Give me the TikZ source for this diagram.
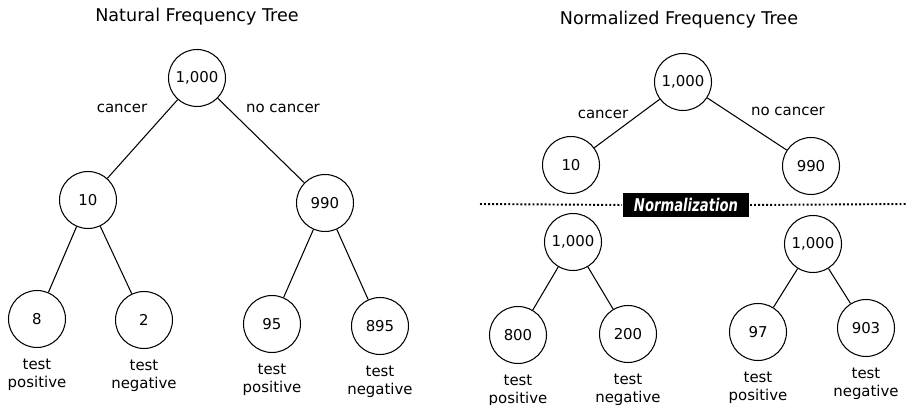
\documentclass[tikz,border=0pt]{standalone}
\usepackage{fontspec}
\usepackage{graphicx}
\setmainfont{DejaVu Sans}
\usetikzlibrary{positioning}
\tikzset{
  freq/.style={circle, draw, line width=0.6pt, minimum size=1.14cm, inner sep=0pt,
               font=\fontsize{8.5}{10}\selectfont},
  outcome/.style={align=center, inner sep=1pt, font=\fontsize{8.5}{10.2}\selectfont},
  branch/.style={font=\fontsize{8.5}{10}\selectfont},
  treetitle/.style={font=\fontsize{10}{12}\selectfont},
}

\begin{document}
\begin{tikzpicture}[x=0.02cm, y=-0.02cm, line width=0.6pt]
  \useasboundingbox (0,0) rectangle (907,405);
  % natural frequency tree
  \node[treetitle] (t1) at (197,17) {Natural Frequency Tree};
  \node[freq] (r1)  at (197,78)  {1,000};
  \node[freq] (c1)  at (88,200)  {10};
  \node[freq] (n1)  at (325,203) {990};
  \node[freq] (cp1) at (37,319)  {8};
  \node[freq] (cn1) at (144,320) {2};
  \node[freq] (np1) at (272,324) {95};
  \node[freq] (nn1) at (380,326) {895};
  \node[branch] (bc1) at (122,108) {cancer};
  \node[branch] (bn1) at (283,108) {no cancer};
  % normalized frequency tree
  \node[treetitle] (t2) at (679,20) {Normalized Frequency Tree};
  \node[freq] (r2)  at (683,82)  {1,000};
  \node[freq] (c2)  at (571,165) {10};
  \node[freq] (n2)  at (811,166) {990};
  \node[freq] (rc2) at (573,242) {1,000};
  \node[freq] (rn2) at (813,244) {1,000};
  \node[freq] (cp2) at (518,335) {800};
  \node[freq] (cn2) at (628,334) {200};
  \node[freq] (np2) at (758,332) {97};
  \node[freq] (nn2) at (866,328) {903};
  \node[branch] (bc2) at (603,114) {cancer};
  \node[branch] (bn2) at (788,111) {no cancer};
  % normalization divider
  \node[fill=black, text=white, minimum width=2.54cm, minimum height=0.48cm, inner sep=0pt,
        font=\fontsize{10}{12}\selectfont\bfseries\itshape] (norm) at (686,205)
        {\scalebox{0.75}[1]{Normalization}};
  \coordinate (dl) at (480,204);
  \coordinate (dr) at (907,204);
  \draw[line width=1.1pt, dash pattern=on 1.1pt off 1.2pt] (dl) -- (norm.west);
  \draw[line width=1.1pt, dash pattern=on 1.1pt off 1.2pt] (norm.east) -- (dr);
  % branches
  \foreach \a/\b in {r1/c1, r1/n1, c1/cp1, c1/cn1, n1/np1, n1/nn1,
                     r2/c2, r2/n2, rc2/cp2, rc2/cn2, rn2/np2, rn2/nn2}
    \draw (\a) -- (\b);
  % test outcomes
  \foreach \n/\t in {cp1/positive, cn1/negative, np1/positive, nn1/negative,
                     cp2/positive, cn2/negative, np2/positive, nn2/negative}
    \node[outcome, below=5pt of \n] (\n-l) {test\\\t};
\end{tikzpicture}
\end{document}
